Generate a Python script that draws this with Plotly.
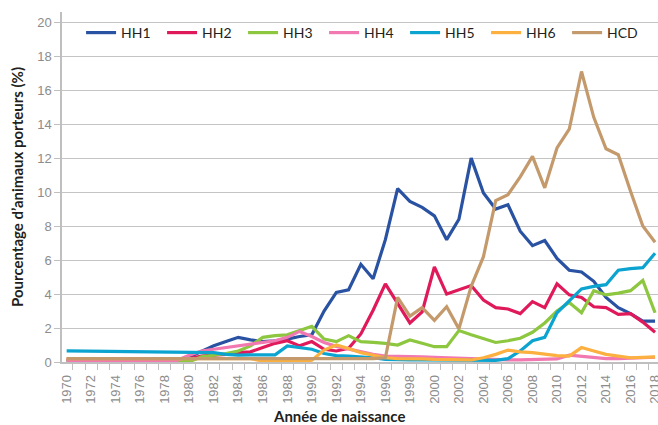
import plotly.graph_objects as go

years = list(range(1970, 2019))
N = None

# Values 1970..2018 (1971-1978 not drawn as separate points; line joins 1970 to 1979)
hh1 = [0.1, N, N, N, N, N, N, N, N, 0.1,
       0.3, 0.65, 0.95, 1.2, 1.45, 1.3, 1.2, 1.25, 1.35, 1.5,
       1.6, 3.0, 4.1, 4.25, 5.75, 4.9, 7.2, 10.2, 9.45, 9.1,
       8.6, 7.2, 8.4, 12.0, 9.95, 9.0, 9.25, 7.7, 6.85, 7.15,
       6.1, 5.4, 5.3, 4.75, 3.8, 3.2, 2.85, 2.4, 2.4]
hh2 = [0.15, N, N, N, N, N, N, N, N, 0.15,
       0.2, 0.35, 0.4, 0.45, 0.55, 0.6, 0.85, 1.1, 1.25, 0.95,
       1.2, 0.75, 0.65, 0.8, 1.65, 3.05, 4.6, 3.45, 2.3, 2.95,
       5.6, 4.0, 4.25, 4.5, 3.65, 3.2, 3.12, 2.85, 3.55, 3.2,
       4.6, 3.95, 3.8, 3.25, 3.2, 2.8, 2.85, 2.35, 1.75]
hh3 = [0.02, N, N, N, N, N, N, N, N, 0.02,
       0.02, 0.3, 0.4, 0.5, 0.65, 0.95, 1.45, 1.55, 1.6, 1.85,
       2.1, 1.35, 1.2, 1.55, 1.2, 1.15, 1.1, 1.0, 1.3, 1.1,
       0.9, 0.9, 1.85, 1.6, 1.35, 1.15, 1.25, 1.4, 1.75, 2.3,
       3.0, 3.5, 2.9, 4.2, 3.95, 4.05, 4.2, 4.8, 2.9]
hh4 = [0.1, N, N, N, N, N, N, N, N, 0.1,
       0.4, 0.65, 0.75, 0.85, 0.95, 1.05, 1.15, 1.25, 1.45, 1.8,
       1.5, 1.15, 0.92, 0.75, 0.58, 0.45, 0.35, 0.32, 0.3, 0.3,
       0.28, 0.25, 0.22, 0.2, 0.18, 0.15, 0.12, 0.12, 0.13, 0.15,
       0.18, 0.4, 0.32, 0.25, 0.2, 0.2, 0.22, 0.25, 0.28]
hh5 = [0.65, N, N, N, N, N, N, N, N, 0.56,
       0.55, 0.55, 0.55, 0.45, 0.4, 0.42, 0.42, 0.42, 0.95, 0.85,
       0.75, 0.5, 0.38, 0.35, 0.32, 0.25, 0.15, 0.12, 0.12, 0.12,
       0.12, 0.12, 0.12, 0.1, 0.1, 0.1, 0.2, 0.65, 1.25, 1.45,
       2.9, 3.6, 4.3, 4.45, 4.55, 5.4, 5.5, 5.55, 6.4]
hh6 = [0.2, N, N, N, N, N, N, N, N, 0.2,
       0.2, 0.2, 0.2, 0.2, 0.2, 0.2, 0.05, 0.05, 0.05, 0.05,
       0.1, 0.7, 1.0, 0.8, 0.55, 0.4, 0.25, 0.2, 0.2, 0.18,
       0.15, 0.15, 0.12, 0.12, 0.25, 0.45, 0.7, 0.6, 0.55, 0.45,
       0.38, 0.35, 0.85, 0.65, 0.45, 0.35, 0.25, 0.27, 0.3]
hcd = [0.2, N, N, N, N, N, N, N, N, 0.2,
       0.2, 0.2, 0.2, 0.2, 0.2, 0.2, 0.2, 0.2, 0.2, 0.2,
       0.2, 0.2, 0.2, 0.2, 0.2, 0.2, 0.25, 3.8, 2.7, 3.2,
       2.45, 3.25, 1.95, 4.45, 6.2, 9.5, 9.85, 10.9, 12.1, 10.25,
       12.6, 13.7, 17.1, 14.4, 12.55, 12.2, 10.05, 8.0, 7.05]

names = ["HH1", "HH2", "HH3", "HH4", "HH5", "HH6", "HCD"]
series = [hh1, hh2, hh3, hh4, hh5, hh6, hcd]
colors = ["#2A52A2", "#E0195A", "#8DC63F", "#F178B0", "#0BA3CF", "#FBB040", "#C49A6C"]

tick_years = list(range(1970, 2019, 2))
tick_text = [str(y) for y in tick_years]

fig = go.Figure()
for name, vals, col in zip(names, series, colors):
    fig.add_trace(go.Scatter(x=years, y=vals, name=name, mode="lines",
                             connectgaps=True,
                             line=dict(color=col, width=3.2)))

fig.update_layout(
    width=658, height=425,
    margin=dict(l=62, r=0, t=12, b=63),
    paper_bgcolor="white", plot_bgcolor="white",
    font=dict(family="Lato, Arial, sans-serif", color="#231F20"),
    showlegend=True,
    legend=dict(orientation="h", x=0.032, y=0.94, xanchor="left", yanchor="middle",
                font=dict(size=14, color="#231F20", family="Lato, Arial, sans-serif"),
                entrywidth=36, entrywidthmode="pixels", itemwidth=30,
                bgcolor="rgba(0,0,0,0)", traceorder="normal"),
    xaxis=dict(range=[1969.62, 2018.24], tickmode="array", tickvals=tick_years,
               ticktext=tick_text, tickangle=-90, ticks="", automargin=False,
               ticklabeloverflow="allow", ticklabelstandoff=6,
               tickfont=dict(size=13, color="#8C8C8C", family="Arial, Liberation Sans, sans-serif"),
               showgrid=False, zeroline=False, showline=True, linecolor="#BFBFBF", linewidth=1.5,
               minor=dict(tickmode="linear", tick0=1969.5, dtick=1, ticks="outside",
                          ticklen=6, tickcolor="#BFBFBF", tickwidth=1, showgrid=False)),
    yaxis=dict(range=[0, 20.6], tickmode="array", tickvals=list(range(0, 21, 2)),
               ticks="outside", ticklen=6, tickcolor="#BFBFBF", automargin=False,
               tickfont=dict(size=13, color="#8C8C8C", family="Arial, Liberation Sans, sans-serif"),
               showgrid=True, gridcolor="#C4C4C4", gridwidth=1.2,
               zeroline=False, showline=True, linecolor="#BFBFBF", linewidth=1.5,
               title=dict(text="<b>Pourcentage d\u2019animaux porteurs (%)</b>", standoff=10,
                          font=dict(size=15, color="#231F20"))),
    annotations=[dict(text="<b>Année de naissance</b>", xref="paper", yref="paper",
                      x=0.465, y=-0.155, xanchor="center", yanchor="middle",
                      showarrow=False, font=dict(size=15, color="#231F20"))],
)

fig.write_html("out.html", config={"displayModeBar": False},
               post_script="document.body.style.margin='0';")
